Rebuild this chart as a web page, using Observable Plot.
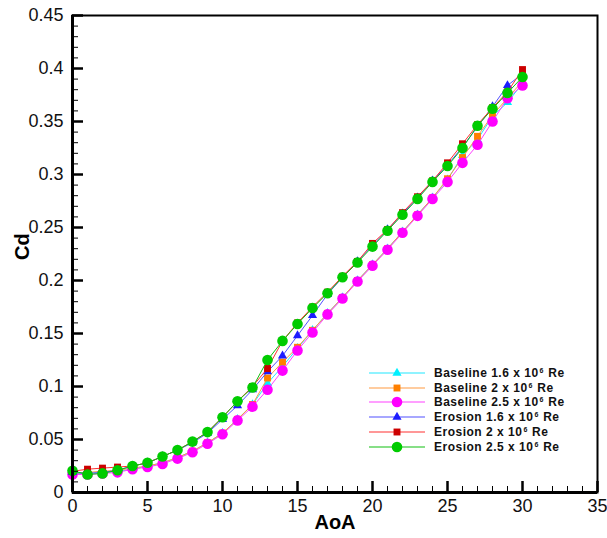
<!DOCTYPE html>
<html>
<head>
<meta charset="utf-8">
<script src="https://cdn.jsdelivr.net/npm/d3@7"></script>
<script src="https://cdn.jsdelivr.net/npm/@observablehq/plot@0.6"></script>
<style>
  body { margin: 0; background: #fff; }
  #wrap { position: relative; width: 607px; height: 538px; font-family: "Liberation Sans", Arial, sans-serif; }
  #legend { position: absolute; left: 368px; top: 365.5px; }
  .row { display: flex; align-items: center; height: 14.8px; }
  .row svg { display: block; }
  .row span { margin-left: 8px; font-size: 12px; font-weight: bold; letter-spacing: 0.5px; color: #111; white-space: nowrap; }
  .row sup { font-size: 7px; vertical-align: 4px; letter-spacing: 0; margin-left: 1px; margin-right: 1px; }
</style>
</head>
<body>
<div id="wrap"></div>
<script>
// ---- data ----
const aoa = [0,1,2,3,4,5,6,7,8,9,10,11,12,13,14,15,16,17,18,19,20,21,22,23,24,25,26,27,28,29,30];
const baseline16 = [0.018,0.018,0.019,0.020,0.022,0.025,0.028,0.033,0.039,0.047,0.056,0.069,0.083,0.103,0.119,0.136,0.153,0.169,0.184,0.200,0.215,0.230,0.246,0.262,0.278,0.295,0.318,0.333,0.355,0.368,0.386];
const baseline20 = [0.018,0.019,0.020,0.021,0.023,0.025,0.028,0.033,0.039,0.047,0.056,0.069,0.083,0.108,0.123,0.137,0.153,0.169,0.184,0.200,0.215,0.230,0.246,0.262,0.278,0.296,0.316,0.336,0.356,0.372,0.388];
const baseline25 = [0.017,0.017,0.018,0.019,0.022,0.024,0.027,0.032,0.038,0.046,0.055,0.068,0.081,0.097,0.115,0.134,0.151,0.168,0.183,0.199,0.214,0.229,0.245,0.261,0.277,0.293,0.311,0.328,0.350,0.372,0.384];
const erosion16  = [0.019,0.018,0.019,0.021,0.025,0.028,0.034,0.040,0.047,0.056,0.069,0.082,0.097,0.114,0.129,0.148,0.167,0.187,0.203,0.218,0.233,0.248,0.263,0.278,0.294,0.309,0.326,0.345,0.364,0.384,0.395];
const erosion20  = [0.020,0.022,0.023,0.024,0.025,0.028,0.034,0.040,0.048,0.057,0.071,0.086,0.100,0.117,0.143,0.160,0.175,0.189,0.204,0.218,0.235,0.248,0.264,0.279,0.294,0.311,0.329,0.347,0.363,0.378,0.399];
const erosion25  = [0.0205,0.017,0.018,0.021,0.025,0.028,0.034,0.040,0.048,0.057,0.071,0.086,0.099,0.125,0.143,0.159,0.174,0.188,0.203,0.217,0.232,0.247,0.262,0.277,0.293,0.308,0.325,0.346,0.362,0.377,0.392];

const seriesNames = ["Baseline 1.6", "Baseline 2", "Baseline 2.5", "Erosion 1.6", "Erosion 2", "Erosion 2.5"];
const seriesValues = [baseline16, baseline20, baseline25, erosion16, erosion20, erosion25];
const xTicks = [0,5,10,15,20,25,30,35];
const yTicks = [0,0.05,0.1,0.15,0.2,0.25,0.3,0.35,0.4,0.45];

// ---- styles ----
const styles = [
  {line: "#20e8ff", fill: "#00f0ff", symbol: "triangle", r: 3.4},
  {line: "#ff9a40", fill: "#ff8000", symbol: "square", r: 3.9},
  {line: "#ff40ff", fill: "#ff00ff", symbol: "circle", r: 5.3},
  {line: "#5050ff", fill: "#1c1cff", symbol: "triangle", r: 3.4},
  {line: "#ff3030", fill: "#cc0000", symbol: "square", r: 3.9},
  {line: "#10c010", fill: "#00cc00", symbol: "circle", r: 5.3}
];

const W = 607, H = 538, mL = 72, mR = 10, mT = 15, mB = 46;
const plotW = W - mL - mR, plotH = H - mT - mB;
const xDomain = [0, 35], yDomain = [0, 0.45];
const pxX = (xDomain[1] - xDomain[0]) / plotW;  // data units per pixel
const pxY = (yDomain[1] - yDomain[0]) / plotH;

const xMinor = d3.range(0, 36).filter(v => v % 5 !== 0);
const yMinor = d3.range(0, 46).filter(v => v % 5 !== 0).map(v => v / 100);

// main chart: series, tick labels, titles
const marks = [];
seriesNames.forEach((name, i) => {
  const data = aoa.map((a, j) => ({aoa: a, cd: seriesValues[i][j]}));
  marks.push(Plot.line(data, {x: "aoa", y: "cd", stroke: styles[i].line, strokeWidth: 1}));
  marks.push(Plot.dot(data, {x: "aoa", y: "cd", symbol: styles[i].symbol, fill: styles[i].fill, r: styles[i].r, stroke: "none"}));
});
marks.push(Plot.text(["AoA"], {frameAnchor: "bottom", dy: 36, fontWeight: "bold", fontSize: 20, fill: "black"}));
marks.push(Plot.text(["Cd"], {frameAnchor: "left", dx: -50, dy: 6, rotate: -90, fontWeight: "bold", fontSize: 20, fill: "black"}));

const chart = Plot.plot({
  width: W, height: H,
  marginLeft: mL, marginRight: mR, marginTop: mT, marginBottom: mB,
  style: {fontSize: "18px", fontFamily: "'Liberation Sans', Arial, sans-serif", color: "#111", background: "white"},
  x: {domain: xDomain, ticks: xTicks, tickSize: 0, tickPadding: 7, label: null},
  y: {domain: yDomain, ticks: yTicks, tickSize: 0, tickPadding: 9, label: null, tickFormat: d => d3.format("~g")(d)},
  marks
});
const wrap = document.getElementById("wrap");
wrap.appendChild(chart);

// overlay chart with the same scales: frame, axis lines, inward ticks
const overlay = Plot.plot({
  width: W, height: H,
  marginLeft: mL, marginRight: mR, marginTop: mT, marginBottom: mB,
  style: {background: "none"},
  x: {domain: xDomain, axis: null},
  y: {domain: yDomain, axis: null},
  marks: [
    Plot.frame({stroke: "black", strokeWidth: 2}),
    Plot.ruleY([0], {stroke: "black", strokeWidth: 3}),
    Plot.ruleX([0], {stroke: "black", strokeWidth: 3}),
    Plot.ruleX(xTicks, {x: d => d, y1: 0, y2: 11 * pxY, stroke: "black", strokeWidth: 2.5}),
    Plot.ruleX(xMinor, {x: d => d, y1: 0, y2: 6 * pxY, stroke: "black", strokeWidth: 1}),
    Plot.ruleY(yTicks, {y: d => d, x1: 0, x2: 11 * pxX, stroke: "black", strokeWidth: 2.5}),
    Plot.ruleY(yMinor, {y: d => d, x1: 0, x2: 6 * pxX, stroke: "black", strokeWidth: 1})
  ]
});
overlay.style.position = "absolute";
overlay.style.left = "0px";
overlay.style.top = "0px";
overlay.style.background = "none";
wrap.appendChild(overlay);

// legend (overlay inside the plot area)
const legend = document.createElement("div");
legend.id = "legend";
wrap.appendChild(legend);
seriesNames.forEach((lab, i) => {
  const s = styles[i];
  const row = document.createElement("div");
  row.className = "row";
  const svg = d3.create("svg").attr("width", 58).attr("height", 14);
  svg.append("line").attr("x1", 1).attr("x2", 57).attr("y1", 7).attr("y2", 7).attr("stroke", s.line).attr("stroke-width", 1.2);
  const sym = s.symbol === "circle" ? d3.symbolCircle : s.symbol === "square" ? d3.symbolSquare : d3.symbolTriangle;
  svg.append("path").attr("transform", "translate(29,7)").attr("d", d3.symbol(sym, Math.PI * s.r * s.r)()).attr("fill", s.fill);
  row.appendChild(svg.node());
  const span = document.createElement("span");
  const parts = lab.split(" ");
  span.innerHTML = parts[0] + " " + parts[1] + " x 10<sup>6</sup> Re";
  row.appendChild(span);
  legend.appendChild(row);
});
</script>
</body>
</html>
